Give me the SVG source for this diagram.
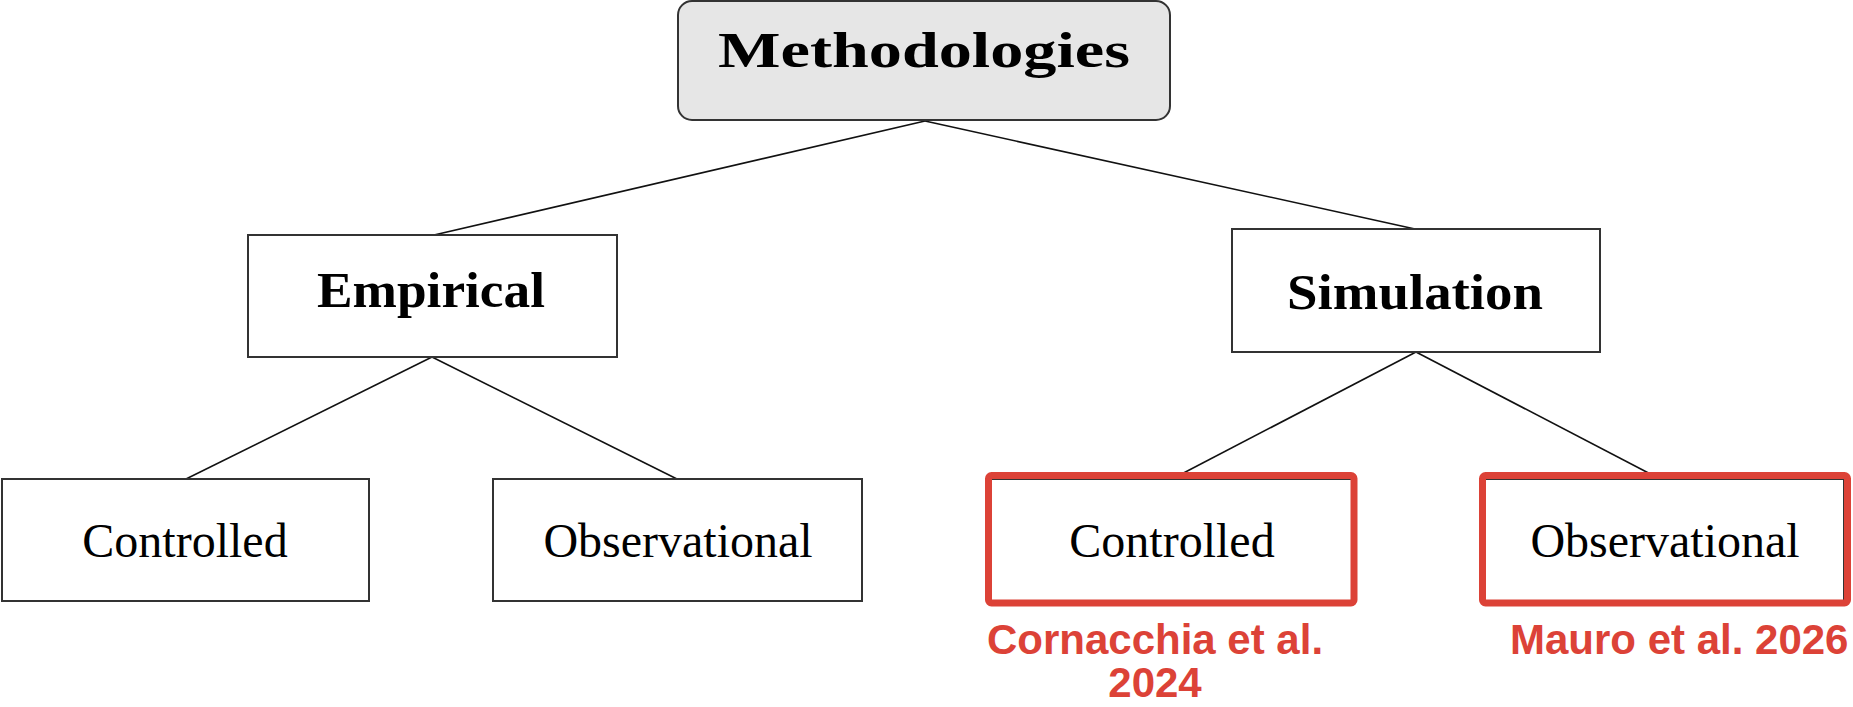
<svg xmlns="http://www.w3.org/2000/svg" width="1853" height="707" viewBox="0 0 1853 707">
  <style>
    .box { fill: #ffffff; stroke: #333333; stroke-width: 2; }
    .root { fill: #e6e6e6; stroke: #333333; stroke-width: 2; }
    .hl { fill: none; stroke: #dc4237; stroke-width: 7; }
    .edge { stroke: #111111; stroke-width: 1.6; fill: none; }
    .head { font-family: "Liberation Serif", "DejaVu Serif", serif; font-weight: bold; font-size: 50px; fill: #000000; text-anchor: middle; }
    .leaf { font-family: "Liberation Serif", "DejaVu Serif", serif; font-size: 48px; fill: #000000; text-anchor: middle; }
    .ref { font-family: "Liberation Sans", Arial, sans-serif; font-weight: bold; font-size: 42px; fill: #dc4237; }
  </style>

  <!-- connectors -->
  <g id="connectors">
    <line class="edge" x1="925" y1="121" x2="434" y2="235"/>
    <line class="edge" x1="925" y1="121" x2="1415" y2="229"/>
    <line class="edge" x1="432" y1="357" x2="186" y2="479"/>
    <line class="edge" x1="432" y1="357" x2="677" y2="479"/>
    <line class="edge" x1="1416" y1="352" x2="1172" y2="479"/>
    <line class="edge" x1="1416" y1="352" x2="1660" y2="479"/>
  </g>

  <!-- root -->
  <g id="methodologies">
    <rect class="root" x="678" y="1" width="492" height="119" rx="14" ry="14"/>
    <text class="head" x="924" y="67" textLength="412" lengthAdjust="spacingAndGlyphs">Methodologies</text>
  </g>

  <!-- second level -->
  <g id="empirical">
    <rect class="box" x="248" y="235" width="369" height="122"/>
    <text class="head" x="431" y="307" textLength="228" lengthAdjust="spacingAndGlyphs">Empirical</text>
  </g>
  <g id="simulation">
    <rect class="box" x="1232" y="229" width="368" height="123"/>
    <text class="head" x="1415" y="309" textLength="256" lengthAdjust="spacingAndGlyphs">Simulation</text>
  </g>

  <!-- leaves under Empirical -->
  <g id="empirical-controlled">
    <rect class="box" x="2" y="479" width="367" height="122"/>
    <text class="leaf" x="185" y="557">Controlled</text>
  </g>
  <g id="empirical-observational">
    <rect class="box" x="493" y="479" width="369" height="122"/>
    <text class="leaf" x="678" y="557">Observational</text>
  </g>

  <!-- leaves under Simulation, highlighted -->
  <g id="simulation-controlled">
    <rect class="box" x="991" y="479" width="362" height="122"/>
    <rect class="hl" x="988.5" y="475.5" width="365.5" height="127.5" rx="3" ry="3"/>
    <text class="leaf" x="1172" y="557">Controlled</text>
  </g>
  <g id="simulation-observational">
    <rect class="box" x="1485" y="479" width="359" height="122"/>
    <rect class="hl" x="1482.5" y="475.5" width="365" height="127.5" rx="3" ry="3"/>
    <text class="leaf" x="1665" y="557">Observational</text>
  </g>

  <!-- references -->
  <g id="ref-cornacchia">
    <text class="ref" x="1155" y="654" text-anchor="middle">Cornacchia et al.</text>
    <text class="ref" x="1155" y="697" text-anchor="middle">2024</text>
  </g>
  <g id="ref-mauro">
    <text class="ref" x="1510" y="654">Mauro et al. 2026</text>
  </g>
</svg>
